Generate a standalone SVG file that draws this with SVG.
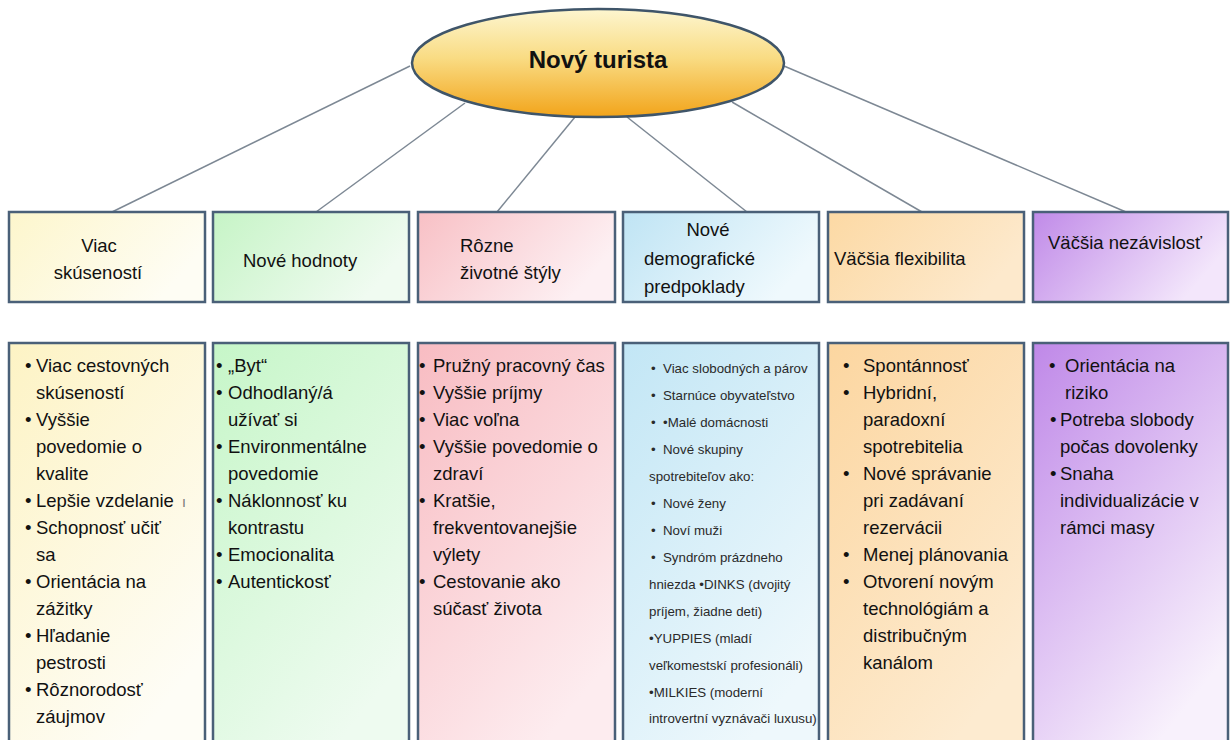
<svg xmlns="http://www.w3.org/2000/svg" width="1230" height="740" viewBox="0 0 1230 740">
<style>
.box{stroke:#4a6078;stroke-width:2.5}
.t{font-family:"Liberation Sans",Arial,sans-serif;fill:#111}
.h{font-size:18.5px}
.s{font-size:13.3px;fill:#2a2a2a}
.title{font-size:24px;font-weight:bold}
.conn line{stroke:#7d8894;stroke-width:1.5}
</style>
<defs>
<linearGradient id="ell" x1="0" y1="0" x2="0" y2="1">
<stop offset="0" stop-color="#fdf6d0"/><stop offset="0.45" stop-color="#f9dc84"/><stop offset="1" stop-color="#f2a41a"/>
</linearGradient>
<linearGradient id="tY" x1="0" y1="0" x2="1" y2="0.4"><stop offset="0" stop-color="#fdf6cc"/><stop offset="1" stop-color="#fefdf4"/></linearGradient>
<linearGradient id="tG" x1="0" y1="0" x2="1" y2="0.4"><stop offset="0" stop-color="#c6f4c6"/><stop offset="1" stop-color="#f0fbf1"/></linearGradient>
<linearGradient id="tP" x1="0" y1="0" x2="1" y2="0.4"><stop offset="0" stop-color="#f8c0c5"/><stop offset="1" stop-color="#fdf0f3"/></linearGradient>
<linearGradient id="tB" x1="0" y1="0" x2="1" y2="0.4"><stop offset="0" stop-color="#bfe4f4"/><stop offset="1" stop-color="#eff9fd"/></linearGradient>
<linearGradient id="tO" x1="0" y1="0" x2="1" y2="0.4"><stop offset="0" stop-color="#fcd9a4"/><stop offset="1" stop-color="#fde9cc"/></linearGradient>
<linearGradient id="tV" x1="0" y1="0" x2="1" y2="0.4"><stop offset="0" stop-color="#c08ae8"/><stop offset="1" stop-color="#f3e6fb"/></linearGradient>
<linearGradient id="lY" x1="0" y1="0" x2="0.6" y2="1"><stop offset="0" stop-color="#fdf3c4"/><stop offset="1" stop-color="#fefdf6"/></linearGradient>
<linearGradient id="lG" x1="0" y1="0" x2="0.6" y2="1"><stop offset="0" stop-color="#c6f6c8"/><stop offset="1" stop-color="#eefbf0"/></linearGradient>
<linearGradient id="lP" x1="0" y1="0" x2="0.6" y2="1"><stop offset="0" stop-color="#f8bcc2"/><stop offset="1" stop-color="#fdecef"/></linearGradient>
<linearGradient id="lB" x1="0" y1="0" x2="0.6" y2="1"><stop offset="0" stop-color="#c2e6f5"/><stop offset="1" stop-color="#eef8fc"/></linearGradient>
<linearGradient id="lO" x1="0" y1="0" x2="0.6" y2="1"><stop offset="0" stop-color="#fcd6a0"/><stop offset="1" stop-color="#fdebd0"/></linearGradient>
<linearGradient id="lV" x1="0" y1="0" x2="0.6" y2="1"><stop offset="0" stop-color="#bf88e8"/><stop offset="1" stop-color="#f8f1fc"/></linearGradient>
</defs>
<rect width="1230" height="740" fill="#ffffff"/>

<g id="connectors" class="conn">
<line x1="410" y1="66" x2="112" y2="212"/>
<line x1="465" y1="103" x2="316" y2="212"/>
<line x1="575" y1="117" x2="497" y2="212"/>
<line x1="627" y1="117" x2="747" y2="212"/>
<line x1="732" y1="102" x2="922" y2="212"/>
<line x1="784" y1="66" x2="1126" y2="212"/>
</g>

<g id="root">
<ellipse cx="598" cy="63" rx="186" ry="54" fill="url(#ell)" stroke="#3f5569" stroke-width="2.5"/>
<text class="t title" x="598" y="68" text-anchor="middle">Nový turista</text>
</g>

<g id="top1">
<rect class="box" x="9" y="212" width="196" height="90" fill="url(#tY)"/>
<text class="t h" x="99" y="252" text-anchor="middle">Viac</text>
<text class="t h" x="98" y="279" text-anchor="middle">skúseností</text>
</g>
<g id="top2">
<rect class="box" x="213" y="212" width="196" height="90" fill="url(#tG)"/>
<text class="t h" x="243" y="267">Nové hodnoty</text>
</g>
<g id="top3">
<rect class="box" x="418" y="212" width="197" height="90" fill="url(#tP)"/>
<text class="t h" x="460" y="252">Rôzne</text>
<text class="t h" x="460" y="279">životné štýly</text>
</g>
<g id="top4">
<rect class="box" x="623" y="212" width="196" height="90" fill="url(#tB)"/>
<text class="t h" x="708" y="236" text-anchor="middle">Nové</text>
<text class="t h" x="644" y="265">demografické</text>
<text class="t h" x="644" y="293">predpoklady</text>
</g>
<g id="top5">
<rect class="box" x="828" y="212" width="196" height="90" fill="url(#tO)"/>
<text class="t h" x="834" y="265">Väčšia flexibilita</text>
</g>
<g id="top6">
<rect class="box" x="1033" y="212" width="195" height="90" fill="url(#tV)"/>
<text class="t h" x="1048" y="249">Väčšia nezávislosť</text>
</g>

<g id="list1">
<rect class="box" x="9" y="343" width="196" height="410" fill="url(#lY)"/>
<text class="t h">
<tspan x="25" y="372">•</tspan><tspan x="36" y="372">Viac cestovných</tspan>
<tspan x="36" y="399">skúseností</tspan>
<tspan x="25" y="426">•</tspan><tspan x="36" y="426">Vyššie</tspan>
<tspan x="36" y="453">povedomie o</tspan>
<tspan x="36" y="480">kvalite</tspan>
<tspan x="25" y="507">•</tspan><tspan x="36" y="507">Lepšie vzdelanie</tspan><tspan x="182" y="507" fill="#777" font-size="14px">ı</tspan>
<tspan x="25" y="534">•</tspan><tspan x="36" y="534">Schopnosť učiť</tspan>
<tspan x="36" y="561">sa</tspan>
<tspan x="25" y="588">•</tspan><tspan x="36" y="588">Orientácia na</tspan>
<tspan x="36" y="615">zážitky</tspan>
<tspan x="25" y="642">•</tspan><tspan x="36" y="642">Hľadanie</tspan>
<tspan x="36" y="669">pestrosti</tspan>
<tspan x="25" y="696">•</tspan><tspan x="36" y="696">Rôznorodosť</tspan>
<tspan x="36" y="723">záujmov</tspan>
</text>
</g>

<g id="list2">
<rect class="box" x="213" y="343" width="196" height="410" fill="url(#lG)"/>
<text class="t h">
<tspan x="216" y="372">•</tspan><tspan x="228" y="372">„Byt“</tspan>
<tspan x="216" y="399">•</tspan><tspan x="228" y="399">Odhodlaný/á</tspan>
<tspan x="228" y="426">užívať si</tspan>
<tspan x="216" y="453">•</tspan><tspan x="228" y="453">Environmentálne</tspan>
<tspan x="228" y="480">povedomie</tspan>
<tspan x="216" y="507">•</tspan><tspan x="228" y="507">Náklonnosť ku</tspan>
<tspan x="228" y="534">kontrastu</tspan>
<tspan x="216" y="561">•</tspan><tspan x="228" y="561">Emocionalita</tspan>
<tspan x="216" y="588">•</tspan><tspan x="228" y="588">Autentickosť</tspan>
</text>
</g>

<g id="list3">
<rect class="box" x="418" y="343" width="197" height="410" fill="url(#lP)"/>
<text class="t h">
<tspan x="419" y="372">•</tspan><tspan x="433" y="372">Pružný pracovný čas</tspan>
<tspan x="419" y="399">•</tspan><tspan x="433" y="399">Vyššie príjmy</tspan>
<tspan x="419" y="426">•</tspan><tspan x="433" y="426">Viac voľna</tspan>
<tspan x="419" y="453">•</tspan><tspan x="433" y="453">Vyššie povedomie o</tspan>
<tspan x="433" y="480">zdraví</tspan>
<tspan x="419" y="507">•</tspan><tspan x="433" y="507">Kratšie,</tspan>
<tspan x="433" y="534">frekventovanejšie</tspan>
<tspan x="433" y="561">výlety</tspan>
<tspan x="419" y="588">•</tspan><tspan x="433" y="588">Cestovanie ako</tspan>
<tspan x="433" y="615">súčasť života</tspan>
</text>
</g>

<g id="list4">
<rect class="box" x="623" y="343" width="196" height="410" fill="url(#lB)"/>
<text class="t s">
<tspan x="651" y="373">•</tspan><tspan x="663" y="373">Viac slobodných a párov</tspan>
<tspan x="651" y="400">•</tspan><tspan x="663" y="400">Starnúce obyvateľstvo</tspan>
<tspan x="651" y="427">•</tspan><tspan x="663" y="427">•Malé domácnosti</tspan>
<tspan x="651" y="454">•</tspan><tspan x="663" y="454">Nové skupiny</tspan>
<tspan x="649" y="481">spotrebiteľov ako:</tspan>
<tspan x="651" y="508">•</tspan><tspan x="663" y="508">Nové ženy</tspan>
<tspan x="651" y="535">•</tspan><tspan x="663" y="535">Noví muži</tspan>
<tspan x="651" y="562">•</tspan><tspan x="663" y="562">Syndróm prázdneho</tspan>
<tspan x="649" y="589">hniezda •DINKS (dvojitý</tspan>
<tspan x="649" y="616">príjem, žiadne deti)</tspan>
<tspan x="649" y="643">•YUPPIES (mladí</tspan>
<tspan x="649" y="670">veľkomestskí profesionáli)</tspan>
<tspan x="649" y="697">•MILKIES (moderní</tspan>
<tspan x="649" y="723">introvertní vyznávači luxusu)</tspan>
</text>
</g>

<g id="list5">
<rect class="box" x="828" y="343" width="196" height="410" fill="url(#lO)"/>
<text class="t h">
<tspan x="843" y="372">•</tspan><tspan x="863" y="372">Spontánnosť</tspan>
<tspan x="843" y="399">•</tspan><tspan x="863" y="399">Hybridní,</tspan>
<tspan x="863" y="426">paradoxní</tspan>
<tspan x="863" y="453">spotrebitelia</tspan>
<tspan x="843" y="480">•</tspan><tspan x="863" y="480">Nové správanie</tspan>
<tspan x="863" y="507">pri zadávaní</tspan>
<tspan x="863" y="534">rezervácii</tspan>
<tspan x="843" y="561">•</tspan><tspan x="863" y="561">Menej plánovania</tspan>
<tspan x="843" y="588">•</tspan><tspan x="863" y="588">Otvorení novým</tspan>
<tspan x="863" y="615">technológiám a</tspan>
<tspan x="863" y="642">distribučným</tspan>
<tspan x="863" y="669">kanálom</tspan>
</text>
</g>

<g id="list6">
<rect class="box" x="1033" y="343" width="195" height="410" fill="url(#lV)"/>
<text class="t h">
<tspan x="1049" y="372">•</tspan><tspan x="1065" y="372">Orientácia na</tspan>
<tspan x="1065" y="399">riziko</tspan>
<tspan x="1050" y="426">•</tspan><tspan x="1060" y="426">Potreba slobody</tspan>
<tspan x="1060" y="453">počas dovolenky</tspan>
<tspan x="1050" y="480">•</tspan><tspan x="1060" y="480">Snaha</tspan>
<tspan x="1060" y="507">individualizácie v</tspan>
<tspan x="1060" y="534">rámci masy</tspan>
</text>
</g>
</svg>
